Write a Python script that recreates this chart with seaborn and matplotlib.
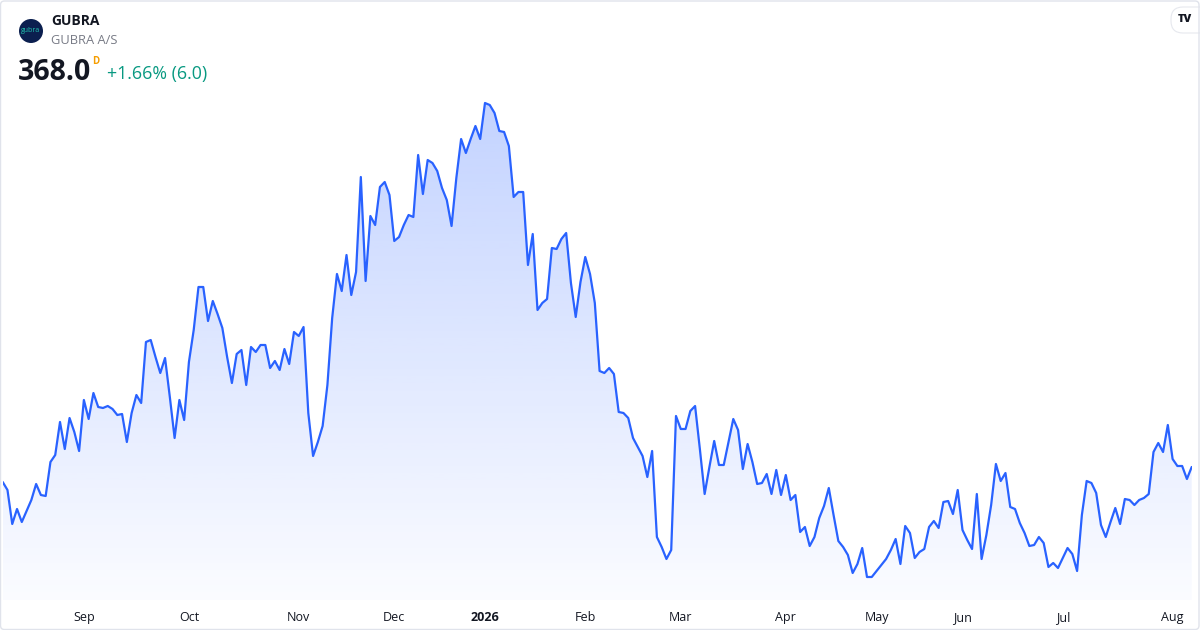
import numpy as np
import pandas as pd
import matplotlib
matplotlib.use("Agg")
import matplotlib.pyplot as plt
import matplotlib.transforms as mtransforms
import seaborn as sns
from matplotlib.patches import Circle, FancyBboxPatch, Polygon

# ==========================================
# data: daily close, GUBRA A/S (Aug 2025 - Aug 2026), one value per trading day
# ==========================================
prices = [
    360.5, 356.5, 339.5, 347.0, 340.5, 346.0, 351.5, 359.5, 354.0, 353.5,
    370.5, 374.0, 390.5, 377.0, 392.5, 385.5, 376.0, 401.5, 392.0, 405.0,
    398.0, 397.5, 398.5, 397.0, 394.0, 394.5, 380.5, 395.0, 404.0, 400.0,
    430.5, 431.5, 423.0, 415.0, 422.5, 403.0, 382.5, 401.5, 391.5, 420.5,
    436.5, 458.0, 458.0, 441.0, 451.0, 444.5, 437.5, 423.0, 410.0, 424.5,
    426.5, 409.0, 428.0, 425.5, 429.0, 429.0, 417.5, 421.0, 416.5, 427.0,
    419.5, 435.5, 433.5, 438.0, 395.0, 373.5, 380.5, 388.5, 409.0, 442.5,
    464.5, 456.0, 474.0, 454.0, 465.5, 513.0, 461.0, 493.5, 489.0, 508.0,
    510.5, 504.0, 481.0, 483.0, 489.0, 494.0, 493.0, 524.0, 504.5, 521.5,
    520.0, 516.0, 507.5, 501.5, 488.5, 512.5, 532.0, 525.0, 532.0, 538.5,
    532.0, 550.0, 549.0, 545.0, 536.0, 535.5, 528.5, 503.0, 505.5, 505.5,
    469.0, 484.5, 446.5, 450.0, 452.0, 477.5, 477.0, 482.0, 485.0, 460.0,
    443.0, 460.5, 473.0, 464.5, 450.0, 416.0, 415.0, 417.5, 414.5, 395.5,
    395.0, 392.5, 382.5, 378.0, 373.5, 363.0, 376.0, 333.0, 328.0, 322.0,
    326.5, 393.5, 387.0, 387.0, 396.0, 398.5, 377.0, 354.5, 368.0, 381.0,
    369.0, 369.0, 380.5, 392.0, 386.5, 367.0, 379.5, 370.5, 359.5, 360.0,
    364.5, 354.5, 366.5, 354.0, 364.0, 351.5, 354.0, 335.5, 338.0, 328.5,
    333.0, 342.5, 348.5, 357.5, 344.0, 331.0, 328.0, 324.0, 315.0, 319.5,
    327.5, 313.0, 313.0, 316.0, 319.0, 322.0, 326.5, 332.0, 319.5, 338.5,
    335.0, 322.5, 325.5, 327.0, 338.0, 341.0, 337.5, 350.5, 351.0, 344.5,
    356.5, 336.5, 331.5, 327.0, 354.5, 322.0, 334.0, 349.0, 369.5, 361.0,
    365.0, 348.0, 347.0, 340.0, 335.0, 328.5, 329.0, 333.0, 330.0, 318.0,
    320.0, 317.5, 322.5, 327.5, 324.5, 316.0, 344.0, 361.0, 360.0, 355.0,
    339.0, 333.0, 340.5, 347.5, 339.5, 352.0, 351.5, 349.0, 351.5, 352.5,
    354.5, 375.5, 380.0, 375.5, 389.0, 372.0, 368.5, 368.5, 362.0, 368.0,
]

# first trading day of each month (index into prices) and its label
month_labels = ["Sep", "Oct", "Nov", "Dec", "2026", "Feb", "Mar", "Apr", "May", "Jun", "Jul", "Aug"]
month_start_idx = [17, 39, 62, 82, 101, 122, 142, 164, 183, 201, 222, 245]

symbol = "GUBRA"
company = "GUBRA A/S"
last_price = "368.0"
change_text = "+1.66% (6.0)"

# ==========================================
# style
# ==========================================
LINE_BLUE = "#2962ff"
TEXT_DARK = "#131722"
TEXT_GRAY = "#787b86"
UP_GREEN = "#089981"

sns.set_style("white")
plt.rcParams['font.family'] = ['Open Sans', 'DejaVu Sans']

W, H = 1200, 630
fig = plt.figure(figsize=(W / 100, H / 100), dpi=100)
fig.patch.set_facecolor("white")

# plot area in pixels (left, top, right, bottom)
px_l, px_t, px_r, px_b = 2.7, 60, 1191.7, 600
ax = fig.add_axes([px_l / W, 1 - px_b / H, (px_r - px_l) / W, (px_b - px_t) / H])

df = pd.DataFrame({"idx": np.arange(len(prices)), "close": prices})

y_lo, y_hi = 301.5, 571.5
ax.set_xlim(0, len(prices) - 1)
ax.set_ylim(y_lo, y_hi)

# gradient area under the line
top_rgb = np.array([41, 98, 255]) / 255
grad = np.linspace(0.02, 0.28, 256).reshape(-1, 1)
img = np.zeros((256, 1, 4))
img[..., :3] = top_rgb
img[..., 3] = grad
im = ax.imshow(img, aspect="auto", origin="lower",
               extent=[0, len(prices) - 1, y_lo, max(prices)], zorder=1)
verts = [(0, y_lo)] + list(zip(df["idx"], df["close"])) + [(len(prices) - 1, y_lo)]
clip = Polygon(verts, closed=True, facecolor="none", edgecolor="none")
ax.add_patch(clip)
im.set_clip_path(clip)

sns.lineplot(data=df, x="idx", y="close", ax=ax, color=LINE_BLUE, linewidth=1.6, zorder=3)

ax.set_xticks([])
ax.set_yticks([])
ax.set_xlabel("")
ax.set_ylabel("")
for s in ax.spines.values():
    s.set_visible(False)
ax.patch.set_alpha(0)

# month labels under the plot
for lab, i in zip(month_labels, month_start_idx):
    ax.text(i, -(617.5 - px_b) / (px_b - px_t), lab, transform=ax.get_xaxis_transform(),
            ha="center", va="center", fontsize=9, color=TEXT_DARK,
            fontweight="bold" if lab.isdigit() else "normal")

# ==========================================
# header
# ==========================================
def fx(px):
    return px / W

def fy(py):
    return 1 - py / H

# round logo (drawn in pixel space so it stays a circle)
px_tr = mtransforms.Affine2D().scale(1 / W, 1 / H) + fig.transFigure
logo = Circle((31, H - 31), radius=12, transform=px_tr, facecolor="#0b1f4f", edgecolor="none")
fig.patches.append(logo)
fig.text(fx(31), fy(31), "gubra", ha="center", va="center", fontsize=5, color="#22c3b0")

fig.text(fx(51), fy(21), symbol, ha="left", va="center", fontsize=10,
         fontweight="bold", color=TEXT_DARK)
fig.text(fx(51), fy(40), company, ha="left", va="center", fontsize=9.3, color=TEXT_GRAY)
fig.text(fx(18), fy(72), last_price, ha="left", va="center", fontsize=20.5,
         fontweight="bold", color=TEXT_DARK)
fig.text(fx(92.5), fy(61), "D", ha="left", va="center", fontsize=7,
         fontweight="bold", color="#f59d00")
fig.text(fx(107), fy(74), change_text, ha="left", va="center", fontsize=12.8, color=UP_GREEN)

# TradingView badge, top right
badge = FancyBboxPatch((1171, H - 33), 40, 26, transform=px_tr,
                       boxstyle="round,pad=0,rounding_size=12", facecolor="white",
                       edgecolor="#e6e8ee", linewidth=0.8)
fig.patches.append(badge)
fig.text(fx(1185), fy(20), "TV", ha="center", va="center", fontsize=8,
         fontweight="heavy", color=TEXT_DARK)

# outer frame
frame = FancyBboxPatch((0.5, 0.5), W - 1.5, H - 1.5, transform=px_tr,
                       boxstyle="round,pad=0,rounding_size=4", facecolor="none",
                       edgecolor="#e0e3eb", linewidth=1.0)
fig.patches.append(frame)

fig.savefig("out.png", dpi=100)
